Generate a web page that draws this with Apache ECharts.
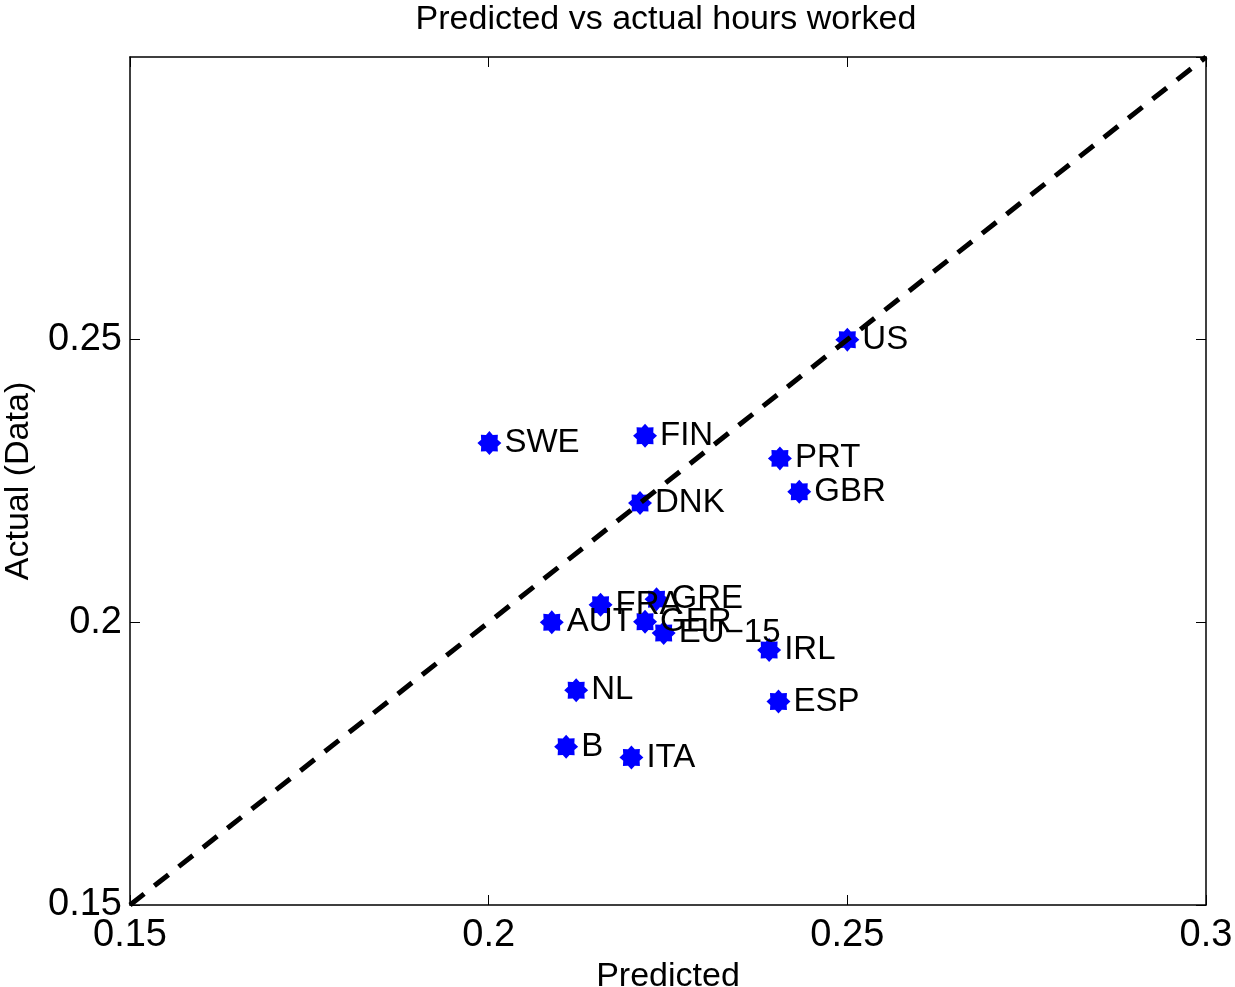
<!DOCTYPE html>
<html lang="en">
<head>
    <meta charset="UTF-8">
    <title>Predicted vs actual hours worked</title>
    <script src="https://cdn.jsdelivr.net/npm/echarts@6/dist/echarts.min.js"></script>
    <style>
        html, body { margin: 0; padding: 0; background: #ffffff; }
        #chart { width: 1235px; height: 987px; }
    </style>
</head>
<body>
<div id="chart"></div>
<script>
    var countries = ['US', 'SWE', 'FIN', 'PRT', 'GBR', 'DNK', 'FRA', 'GRE', 'AUT', 'GER', 'EU\u221215', 'IRL', 'NL', 'ESP', 'B', 'ITA'];
    var predicted = [0.2500, 0.2001, 0.2218, 0.2406, 0.2433, 0.2211, 0.2156, 0.2234, 0.2088, 0.2218, 0.2244, 0.2391, 0.2122, 0.2404, 0.2108, 0.2199];
    var actual    = [0.2500, 0.2317, 0.2330, 0.2290, 0.2231, 0.2211, 0.2031, 0.2041, 0.2000, 0.2001, 0.1981, 0.1951, 0.1880, 0.1860, 0.1780, 0.1761];
    var diagLine  = [[0.15, 0.15], [0.3, 0.3]];

    var font = 'Liberation Sans, Arial, Helvetica, sans-serif';

    // asterisk-like marker: 8 pointed blob
    var pts = [];
    for (var k = 0; k < 16; k++) {
        var a = k * Math.PI / 8;
        var r = (k % 2 === 0) ? 1 : 0.74;
        pts.push((Math.cos(a) * r).toFixed(3) + ' ' + (Math.sin(a) * r).toFixed(3));
    }
    var starPath = 'path://M' + pts.join(' L') + ' Z';

    var points = [];
    for (var i = 0; i < countries.length; i++) {
        points.push({name: countries[i], value: [predicted[i], actual[i]]});
    }

    var axisCommon = {
        type: 'value',
        min: 0.15,
        max: 0.3,
        interval: 0.05,
        axisLine: {show: true, onZero: false, lineStyle: {color: '#000', width: 1.5}},
        axisTick: {show: true, inside: true, length: 10, lineStyle: {color: '#000', width: 1}},
        splitLine: {show: false}
    };

    var option = {
        backgroundColor: '#ffffff',
        animation: false,
        title: {
            text: 'Predicted vs actual hours worked',
            left: 661,
            top: -2,
            textAlign: 'center',
            textStyle: {fontFamily: font, fontSize: 34, fontWeight: 'normal', color: '#000'}
        },
        grid: {left: 130, right: 29, top: 57, bottom: 82, containLabel: false, outerBoundsMode: 'none'},
        xAxis: [
            Object.assign({}, axisCommon, {
                position: 'bottom',
                name: 'Predicted',
                nameLocation: 'middle',
                nameGap: 47,
                nameTextStyle: {fontFamily: font, fontSize: 34, color: '#000'},
                axisLabel: {fontFamily: font, fontSize: 38, color: '#000', margin: 12}
            }),
            Object.assign({}, axisCommon, {
                position: 'top',
                axisLabel: {show: false}
            })
        ],
        yAxis: [
            Object.assign({}, axisCommon, {
                position: 'left',
                name: 'Actual (Data)',
                nameLocation: 'middle',
                nameGap: 94,
                nameTextStyle: {fontFamily: font, fontSize: 34, color: '#000'},
                axisLabel: {fontFamily: font, fontSize: 38, color: '#000', margin: 8, showMaxLabel: false}
            }),
            Object.assign({}, axisCommon, {
                position: 'right',
                axisLabel: {show: false}
            })
        ],
        series: [
            {
                type: 'scatter',
                symbol: starPath,
                symbolSize: 24,
                itemStyle: {color: '#0000ff', opacity: 1},
                label: {
                    show: true,
                    position: 'right',
                    distance: 3,
                    formatter: '{b}',
                    fontFamily: font,
                    fontSize: 33,
                    color: '#000'
                },
                data: points,
                z: 2
            },
            {
                type: 'line',
                data: diagLine,
                symbol: 'none',
                lineStyle: {color: '#000', width: 5, type: [18, 13]},
                silent: true,
                z: 3
            }
        ]
    };

    echarts.init(document.getElementById('chart')).setOption(option);
</script>
</body>
</html>
